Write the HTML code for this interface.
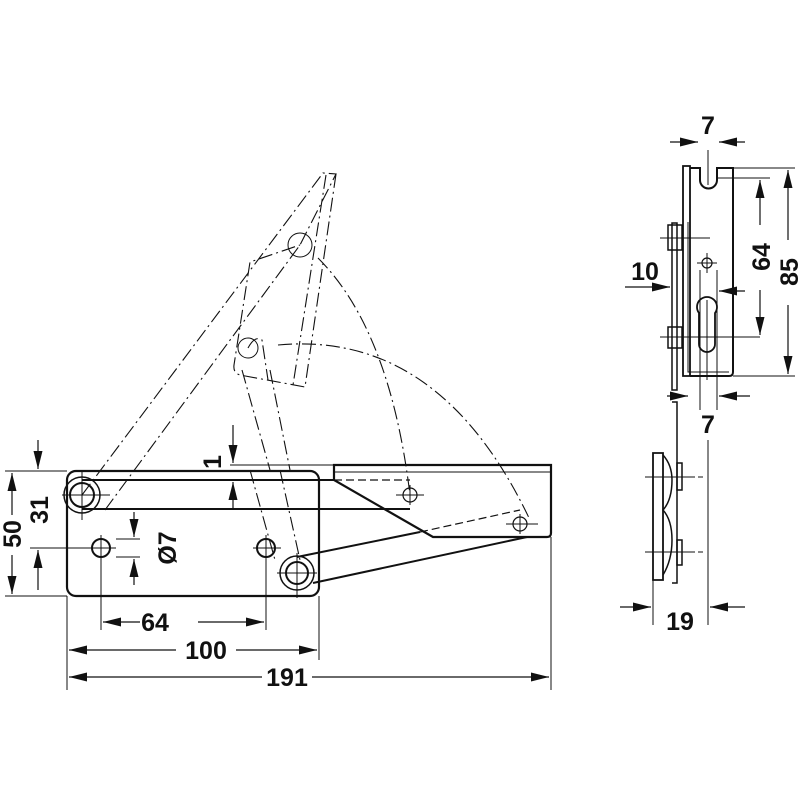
<!DOCTYPE html>
<html><head><style>
html,body{margin:0;padding:0;background:#fff}
svg{display:block}
text{font-family:"Liberation Sans",sans-serif;font-weight:bold;font-size:25px;fill:#111}
</style></head><body>
<svg width="800" height="800" viewBox="0 0 800 800" xmlns="http://www.w3.org/2000/svg">
<defs>
<marker id="a" markerWidth="18" markerHeight="9" refX="18" refY="4.5" orient="auto" markerUnits="userSpaceOnUse"><path d="M0,0 L18,4.5 L0,9 Z" fill="#111"/></marker>
</defs>
<g fill="none" stroke="#111" stroke-width="1.2">
<!-- phantom (dash-dot) -->
<g stroke-dasharray="14,4,2,4" stroke-width="1.1">
<path d="M82,495 L323,173 L336,174 L300,245"/>
<path d="M105,510 L300,245"/>
<path d="M336,174 L305,387 L240,375 Q233,373 234,365 L250,262 L300,245"/>
<path d="M326,175 L293,385"/>
<path d="M248,348 Q255,335 262,340 L268,380"/>
<path d="M242,370 L270,470"/>
<path d="M270,370 L290,470"/>
<path d="M278,345 Q440,330 530,520"/>
<path d="M318,258 Q390,330 410,495"/>
<path d="M250,470 L275,560"/>
<path d="M280,470 L300,560"/>
</g>
<circle cx="300" cy="245" r="12" stroke-width="1"/>
<circle cx="248" cy="348" r="10" stroke-width="1"/>
<!-- base plate -->
<rect x="67" y="471" width="252" height="125" rx="9" stroke-width="2.2"/>
<path d="M82,480 L334,480 M82,509 L410,509" stroke-width="2"/>
<circle cx="82" cy="495" r="18" stroke-width="1.5"/>
<circle cx="82" cy="495" r="12" stroke-width="2"/>
<path d="M62,495 L110,495 M82,470 L82,520" stroke-width="1"/>
<circle cx="101" cy="548" r="9" stroke-width="2"/>
<circle cx="266" cy="548" r="9" stroke-width="2"/>
<path d="M88,548 L116,548 M101,535 L101,630 M253,548 L281,548 M266,535 L266,630" stroke-width="1"/>
<!-- right plate -->
<path d="M334,465 L551,465 L551,533 Q551,537 547,537 L433,537 L334,480 Z" stroke-width="2.2"/>
<path d="M334,472 L551,472" stroke-width="1"/>
<path d="M334,480 L410,480" stroke-dasharray="8,4"/>
<path d="M420,532 L520,510" stroke-dasharray="8,4"/>
<path d="M297,557 L420,532 M313,583 L527,537" stroke-width="2"/>
<circle cx="297" cy="573" r="17" stroke-width="1.5"/>
<circle cx="297" cy="573" r="11" stroke-width="2"/>
<path d="M277,573 L317,573 M297,553 L297,598" stroke-width="1"/>
<circle cx="410" cy="495" r="7"/><path d="M396,495 L424,495 M410,485 L410,505" stroke-width="1"/>
<circle cx="520" cy="524" r="7"/><path d="M506,524 L538,524 M520,514 L520,534" stroke-width="1"/>
<!-- dims left -->
<path d="M67,596 L67,690 M319,596 L319,660 M551,537 L551,690" stroke-width="1"/>
<path d="M5,471 L67,471 M5,596 L67,596 M30,548 L90,548 M230,465 L334,465" stroke-width="1"/>
<g marker-end="url(#a)">
<path d="M12,515 L12,473"/><path d="M12,555 L12,594"/>
<path d="M38,440 L38,469"/><path d="M38,590 L38,550"/>
<path d="M134,512 L134,537"/><path d="M134,585 L134,559"/>
<path d="M233,425 L233,463"/><path d="M233,510 L233,482"/>
<path d="M140,622 L103,622"/><path d="M198,622 L264,622"/>
<path d="M176,650 L69,650"/><path d="M236,650 L317,650"/>
<path d="M262,677 L69,677"/><path d="M312,677 L549,677"/>
</g>
<path d="M116,539 L140,539 M116,557 L140,557" stroke-width="1"/>
<!-- side view -->
<path d="M683,166 L690,166 L690,376 L683,376 Z" stroke-width="1.8"/>
<path d="M690,168 L700,168 L700,180 A8.5,8.5 0 0 0 717,180 L717,168 L733,168 L733,372 Q733,376 729,376 L690,376" stroke-width="2"/>
<path d="M688,222 L688,372 L729,372" stroke-width="1"/>
<path d="M708,150 L708,185 M717,178 L770,178 M733,168 L795,168 M733,376 L795,376" stroke-width="1"/>
<circle cx="707" cy="263" r="5"/><path d="M697,263 L717,263 M707,253 L707,273" stroke-width="1"/>
<path d="M699,313 A10,10 0 1 1 715,313 L715,344 A8,8 0 0 1 699,344 Z" stroke-width="1.8"/>
<path d="M707,300 L707,380" stroke-width="1"/>
<path d="M700,270 L700,410 M717,270 L717,410" stroke-width="1"/>
<path d="M672,223 L677,223 L677,390 L672,390 Z M672,402 L677,402 L677,583 L672,583" stroke-width="1.5"/>
<rect x="668" y="225" width="14" height="25" stroke-width="1.5"/>
<rect x="668" y="327" width="14" height="21" stroke-width="1.5"/>
<path d="M660,238 L710,238 M660,337 L760,337" stroke-width="1"/>
<path d="M653,453 L663,453 L663,580 L653,580 Z" stroke-width="1.8"/>
<path d="M663,455 Q672,465 672,480 Q672,500 663,510 Q672,520 672,540 Q672,560 663,575" stroke-width="1.5"/>
<rect x="677" y="463" width="5" height="27" stroke-width="1.5"/>
<rect x="677" y="540" width="5" height="25" stroke-width="1.5"/>
<path d="M645,477 L695,477 M645,552 L695,552 M698,477 L703,477 M698,552 L703,552" stroke-width="1"/>
<path d="M653,580 L653,625 M708,440 L708,625" stroke-width="1"/>
<g marker-end="url(#a)">
<path d="M670,142 L698,142"/><path d="M745,142 L719,142"/>
<path d="M760,225 L760,180"/><path d="M760,290 L760,335"/>
<path d="M788,240 L788,170"/><path d="M788,305 L788,374"/>
<path d="M625,287 L670,287"/><path d="M745,291 L719,291"/>
<path d="M667,396 L688,396"/><path d="M750,396 L719,396"/>
<path d="M620,607 L651,607"/><path d="M745,607 L710,607"/>
</g>
</g>
<text x="155" y="631" text-anchor="middle">64</text>
<text x="206" y="659" text-anchor="middle">100</text>
<text x="287" y="686" text-anchor="middle">191</text>
<text transform="translate(21,534) rotate(-90)" text-anchor="middle">50</text>
<text transform="translate(48,510) rotate(-90)" text-anchor="middle">31</text>
<text transform="translate(176,548) rotate(-90)" text-anchor="middle">Ø7</text>
<text transform="translate(221,462) rotate(-90)" text-anchor="middle" font-size="23">1</text>
<text x="708" y="134" text-anchor="middle">7</text>
<text x="645" y="280" text-anchor="middle">10</text>
<text x="708" y="433" text-anchor="middle">7</text>
<text x="680" y="630" text-anchor="middle">19</text>
<text transform="translate(770,257) rotate(-90)" text-anchor="middle">64</text>
<text transform="translate(798,272) rotate(-90)" text-anchor="middle">85</text>
</svg>
</body></html>
